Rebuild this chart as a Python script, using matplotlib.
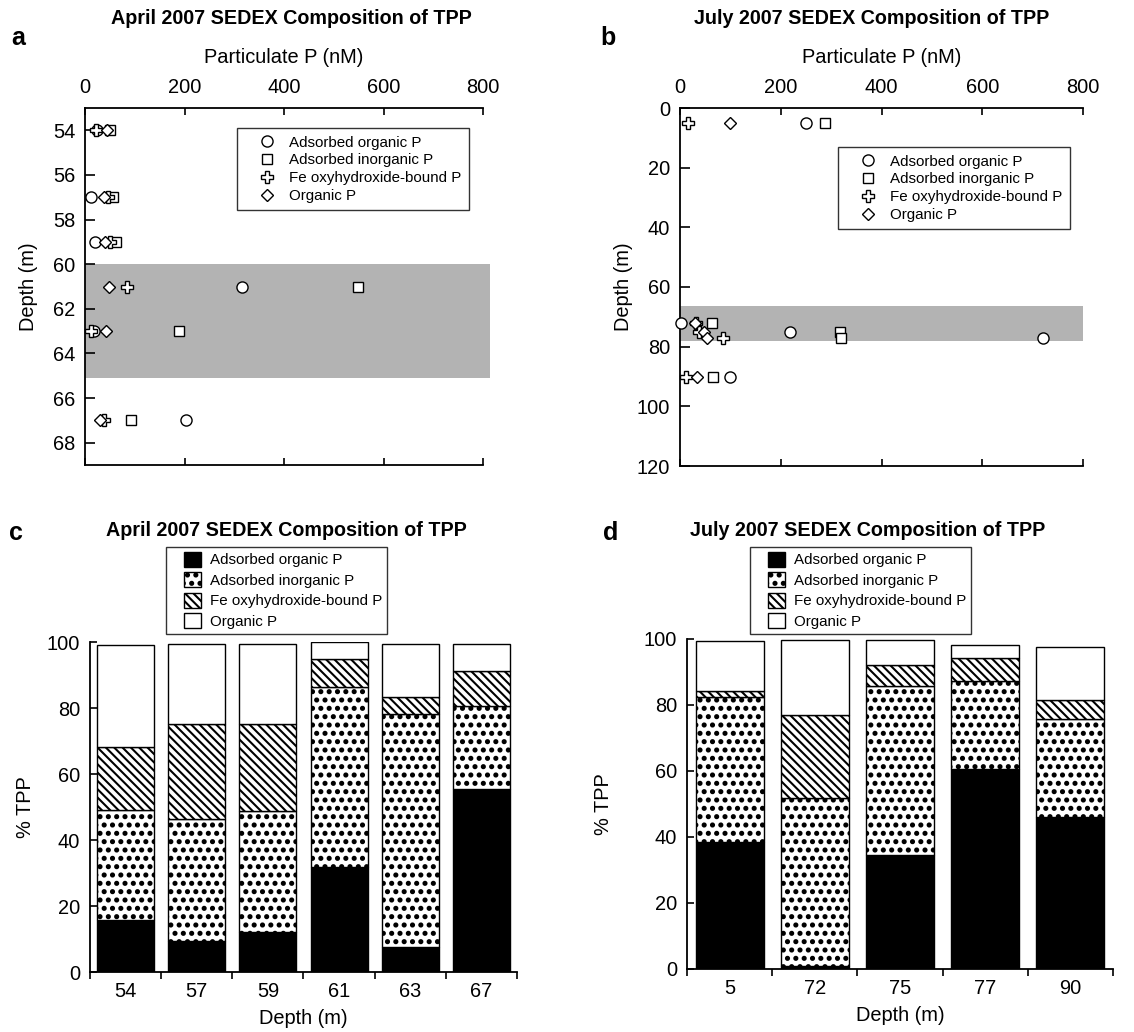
import matplotlib
matplotlib.use("Agg")
import matplotlib.pyplot as plt
from matplotlib import hatch as mhatch
from matplotlib.lines import Line2D
from matplotlib.patches import Patch, Rectangle
from matplotlib.legend_handler import HandlerPatch

plt.rcParams["font.family"] = ["Liberation Sans", "DejaVu Sans"]
plt.rcParams["hatch.linewidth"] = 1.5
# bigger dots for the "." hatch, closer to the printed stipple
mhatch.SmallFilledCircles.size = 0.18

SERIES = ["Adsorbed organic P", "Adsorbed inorganic P",
          "Fe oxyhydroxide-bound P", "Organic P"]

# panel a: April 2007, particulate P (nM) by depth
a_depth = [54, 57, 59, 61, 63, 67]
a_ads_org = [25, 13, 20, 316, 19, 203]
a_ads_inorg = [50, 57, 62, 549, 189, 92]
a_fe = [23, 47, 50, 84, 13, 38]
a_org = [45, 38, 41, 48, 42, 30]

# panel b: July 2007
b_depth = [5, 72, 75, 77, 90]
b_ads_org = [250, 2, 218, 720, 100]
b_ads_inorg = [287, 63, 318, 320, 65]
b_fe = [15, 32, 38, 85, 12]
b_org = [99, 30, 48, 53, 34]

# panel c: April 2007, % TPP
c_labels = ["54", "57", "59", "61", "63", "67"]
c_ads_org = [15.7, 9.4, 12.1, 31.8, 7.6, 55.6]
c_ads_inorg = [33.4, 37.1, 36.8, 54.7, 70.6, 25.1]
c_fe = [19.2, 28.6, 26.2, 8.3, 5.0, 10.5]
c_org = [30.9, 24.3, 24.4, 5.1, 16.3, 8.3]

# panel d: July 2007, % TPP
d_labels = ["5", "72", "75", "77", "90"]
d_ads_org = [38.5, 0.8, 34.5, 60.6, 46.1]
d_ads_inorg = [43.9, 51.1, 51.2, 26.6, 29.7]
d_fe = [1.9, 25.1, 6.4, 6.9, 5.6]
d_org = [15.0, 22.8, 7.7, 4.2, 16.2]

MARKERS = [("o", 8.0), ("s", 7.5), ("P", 9.0), ("D", 6.5)]
HATCHES = [None, "..", "\\\\\\\\", None]
FACES = ["black", "white", "white", "white"]

FS = 14.4
LFS = 10.9
W, H = 1134, 1032


def fx(px):
    return px / W


def fy(py):
    return 1 - py / H


def small_box(legend, orig_handle, xdescent, ydescent, width, height, fontsize):
    # square swatch sitting at the right of the handle box (points)
    w, h = 12.2, 10.8
    return Rectangle((-xdescent + width - w, -ydescent + (height - h) / 2), w, h)


def profile(fig, rect, depth, series, ylim, yticks, band, band_xmax,
            legend_xy, ylab_x):
    ax = fig.add_axes(rect)
    ax.axhspan(band[0], band[1], xmin=0, xmax=band_xmax, color="#b3b3b3",
               lw=0, clip_on=False, zorder=0)
    for (m, ms), vals, lab in zip(MARKERS, series, SERIES):
        ax.plot(vals, depth, ls="none", marker=m, ms=ms, mfc="white",
                mec="black", mew=1.0, label=lab, clip_on=False, zorder=3)
    ax.set_xlim(0, 800)
    ax.set_xticks([0, 200, 400, 600, 800])
    ax.set_ylim(ylim[1], ylim[0])
    ax.set_yticks(yticks)
    ax.spines["right"].set_visible(False)
    for s in ("top", "left", "bottom"):
        ax.spines[s].set_linewidth(1.3)
    ax.tick_params(axis="x", top=True, bottom=True, labeltop=True,
                   labelbottom=False, direction="in", length=5, width=1.2,
                   labelsize=FS, pad=8)
    ax.tick_params(axis="y", direction="in", length=7, width=1.2,
                   labelsize=FS, pad=7)
    ax.xaxis.set_label_position("top")
    ax.set_xlabel("Particulate P (nM)", fontsize=FS, labelpad=11)
    ax.set_ylabel("Depth (m)", fontsize=FS)
    ax.yaxis.set_label_coords(ylab_x, 0.5)
    handles = [Line2D([], [], ls="none", marker=m, ms=ms, mfc="white",
                      mec="black", mew=1.0) for m, ms in MARKERS]
    leg = ax.legend(handles, SERIES, loc="upper left",
                    bbox_to_anchor=legend_xy, bbox_transform=fig.transFigure,
                    fontsize=LFS, frameon=True, fancybox=False,
                    borderaxespad=0, borderpad=0.5, labelspacing=0.25,
                    handlelength=2.9, handletextpad=0.05)
    leg.get_frame().set_edgecolor("black")
    leg.get_frame().set_linewidth(1.0)
    return ax


def stacked(fig, rect, labels, series, legend_xy, ylab_x):
    ax = fig.add_axes(rect)
    x = list(range(len(labels)))
    bottom = [0.0] * len(labels)
    for vals, hatch, face in zip(series, HATCHES, FACES):
        ax.bar(x, vals, width=0.8, bottom=bottom, color=face,
               edgecolor="black", linewidth=1.0, hatch=hatch)
        bottom = [b + v for b, v in zip(bottom, vals)]
    ax.set_xlim(-0.5, len(labels) - 0.5)
    ax.set_ylim(0, 100)
    ax.set_yticks([0, 20, 40, 60, 80, 100])
    ax.set_xticks([i - 0.5 for i in range(len(labels) + 1)])
    ax.set_xticklabels([])
    ax.set_xticks(x, minor=True)
    ax.set_xticklabels(labels, minor=True)
    ax.tick_params(axis="x", which="major", direction="out", length=5,
                   width=1.2)
    ax.tick_params(axis="x", which="minor", length=0, labelsize=FS, pad=7)
    ax.tick_params(axis="y", direction="in", length=5, width=1.2,
                   labelsize=FS, pad=7)
    ax.spines["right"].set_visible(False)
    ax.spines["top"].set_visible(False)
    for s in ("left", "bottom"):
        ax.spines[s].set_linewidth(1.3)
    ax.set_xlabel("Depth (m)", fontsize=FS, labelpad=6)
    ax.set_ylabel("% TPP", fontsize=FS)
    ax.yaxis.set_label_coords(ylab_x, 0.5)
    handles = [Patch(facecolor=face, edgecolor="black", lw=1.0, hatch=hatch)
               for hatch, face in zip(HATCHES, FACES)]
    leg = ax.legend(handles, SERIES, loc="upper left",
                    bbox_to_anchor=legend_xy, bbox_transform=fig.transFigure,
                    fontsize=LFS, frameon=True, fancybox=False,
                    borderaxespad=0, borderpad=0.36, labelspacing=0.36,
                    handlelength=1.92, handleheight=1.0, handletextpad=0.6,
                    handler_map={Patch: HandlerPatch(patch_func=small_box)})
    leg.get_frame().set_edgecolor("black")
    leg.get_frame().set_linewidth(1.0)
    return ax


def main():
    fig = plt.figure(figsize=(W / 100, H / 100), dpi=100)

    profile(fig, [fx(85), fy(465), fx(483 - 85), fy(108) - fy(465)],
            a_depth, [a_ads_org, a_ads_inorg, a_fe, a_org],
            (53, 69), range(54, 69, 2), (60, 65.1), 1.018,
            (fx(237), fy(128)), (38 - 85) / 398)
    profile(fig, [fx(680), fy(466), fx(1083 - 680), fy(108) - fy(466)],
            b_depth, [b_ads_org, b_ads_inorg, b_fe, b_org],
            (0, 120), range(0, 121, 20), (66.3, 78), 1.0,
            (fx(838), fy(147)), (633 - 680) / 403)
    stacked(fig, [fx(90), fy(972), fx(517 - 90), fy(642) - fy(972)],
            c_labels, [c_ads_org, c_ads_inorg, c_fe, c_org],
            (fx(166), fy(547)), (35 - 90) / 427)
    stacked(fig, [fx(687), fy(969), fx(1113 - 687), fy(639) - fy(969)],
            d_labels, [d_ads_org, d_ads_inorg, d_fe, d_org],
            (fx(750), fy(547)), (613 - 687) / 426)

    titles = [("April 2007 SEDEX Composition of TPP", 291, 18),
              ("July 2007 SEDEX Composition of TPP", 872, 18),
              ("April 2007 SEDEX Composition of TPP", 286, 530),
              ("July 2007 SEDEX Composition of TPP", 868, 530)]
    for text, px, py in titles:
        fig.text(fx(px), fy(py), text, ha="center", va="center",
                 fontsize=14.2, fontweight="bold")
    for letter, px, py in [("a", 18, 38), ("b", 608, 38),
                           ("c", 16, 533), ("d", 611, 533)]:
        fig.text(fx(px), fy(py), letter, ha="center", va="center",
                 fontsize=18, fontweight="bold")

    fig.savefig("out.png", dpi=100)


if __name__ == "__main__":
    main()
